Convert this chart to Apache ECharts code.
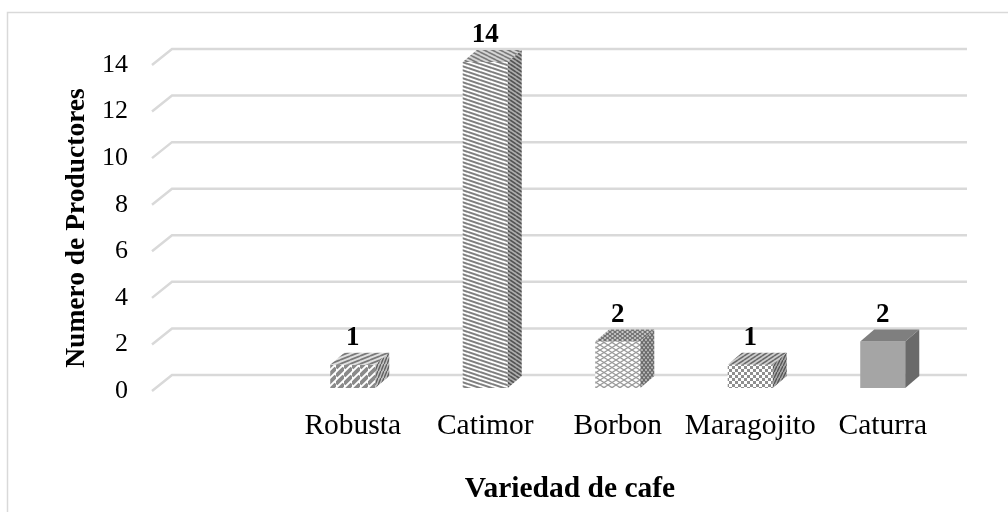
<!DOCTYPE html>
<html>
<head>
<meta charset="utf-8">
<title>Variedad de cafe</title>
<script src="https://cdn.jsdelivr.net/npm/echarts@6.0.0/dist/echarts.min.js"></script>
<style>
  body { margin: 0; background: #fff; }
  #chart { width: 1008px; height: 512px; }
</style>
</head>
<body>
<div id="chart"></div>
<script>
// datos
const categories = ['', 'Robusta', 'Catimor', 'Borbon', 'Maragojito', 'Caturra'];
const productores = [null, 1, 14, 2, 1, 2];
const yTicks = [0, 2, 4, 6, 8, 10, 12, 14];

const FONT = '"Liberation Serif", "Times New Roman", serif';
const DX = 14, DY = 12;          // profundidad de las cajas 3D
const WALL_DX = 20, WALL_DY = 16; // profundidad de la pared del fondo

// tramas de relleno
function tile(w, h, draw) {
    const c = document.createElement('canvas');
    c.width = w; c.height = h;
    draw(c.getContext('2d'));
    return { image: c, repeat: 'repeat' };
}
function stripes(w, h, bg, fg, lw, up) {
    return tile(w, h, ctx => {
        ctx.fillStyle = bg; ctx.fillRect(0, 0, w, h);
        ctx.strokeStyle = fg; ctx.lineWidth = lw;
        for (let k = -1; k <= 1; k++) {
            ctx.beginPath();
            if (up) { ctx.moveTo(0, h + k * h); ctx.lineTo(w, k * h); }
            else { ctx.moveTo(0, k * h); ctx.lineTo(w, h + k * h); }
            ctx.stroke();
        }
    });
}
function lattice(w, h, bg, fg, lw) {
    return tile(w, h, ctx => {
        ctx.fillStyle = bg; ctx.fillRect(0, 0, w, h);
        ctx.strokeStyle = fg; ctx.lineWidth = lw;
        for (let k = -1; k <= 1; k++) {
            ctx.beginPath(); ctx.moveTo(0, k * h); ctx.lineTo(w, h + k * h); ctx.stroke();
            ctx.beginPath(); ctx.moveTo(0, h + k * h); ctx.lineTo(w, k * h); ctx.stroke();
        }
    });
}
function checker(s, bg, fg) {
    return tile(2 * s, 2 * s, ctx => {
        ctx.fillStyle = bg; ctx.fillRect(0, 0, 2 * s, 2 * s);
        ctx.fillStyle = fg; ctx.fillRect(0, 0, s, s); ctx.fillRect(s, s, s, s);
    });
}

const faceStyles = {
    1: { front: stripes(8, 8, '#ffffff', '#8a8a8a', 3.8, true),
         top: stripes(10, 4, '#e0e0e0', '#7a7a7a', 1.8, true),
         side: stripes(3, 7, '#c0c0c0', '#5f5f5f', 1.4, true) },
    2: { front: stripes(12, 4, '#ffffff', '#7f7f7f', 2, false),
         top: stripes(8, 4, '#d6d6d6', '#7a7a7a', 1.6, false),
         side: stripes(6, 4, '#b0b0b0', '#555555', 1.8, false) },
    3: { front: lattice(8, 5, '#ffffff', '#9a9a9a', 1.2),
         top: lattice(5, 4, '#cfcfcf', '#6f6f6f', 1.1),
         side: lattice(4, 5, '#bdbdbd', '#666666', 1.1) },
    4: { front: checker(3, '#ffffff', '#8f8f8f'),
         top: stripes(6, 4, '#cfcfcf', '#6a6a6a', 1.6, true),
         side: stripes(3, 6, '#a8a8a8', '#555555', 1.4, true) },
    5: { front: '#a5a5a5', top: '#7f7f7f', side: '#6a6a6a' }
};

function renderBox(params, api) {
    const v = api.value(1);
    if (v == null || isNaN(v)) return;
    const i = api.value(0);
    const base = api.coord([i, 0]);
    const top = api.coord([i, v]);
    const w = api.size([1, 0])[0] * 0.34;
    const x0 = base[0] - w / 2, x1 = base[0] + w / 2;
    const yt = top[1], yb = base[1];
    const f = faceStyles[i];
    return {
        type: 'group',
        children: [
            { type: 'polygon', shape: { points: [[x0, yt], [x1, yt], [x1, yb], [x0, yb]] }, style: { fill: f.front } },
            { type: 'polygon', shape: { points: [[x0, yt], [x0 + DX, yt - DY], [x1 + DX, yt - DY], [x1, yt]] }, style: { fill: f.top } },
            { type: 'polygon', shape: { points: [[x1, yt], [x1 + DX, yt - DY], [x1 + DX, yb - DY], [x1, yb]] }, style: { fill: f.side } },
            { type: 'text', style: {
                text: String(v), x: base[0], y: yt - DY - 1,
                align: 'center', verticalAlign: 'bottom',
                textAlign: 'center', textVerticalAlign: 'bottom',
                font: 'bold 27px ' + FONT, fill: '#000'
            } }
        ]
    };
}

function renderWall(params, api) {
    const p = api.coord([0, api.value(1)]);
    const q = api.coord([1, api.value(1)]);
    return {
        type: 'polyline',
        shape: { points: [[p[0], p[1]], [p[0] + WALL_DX, p[1] - WALL_DY], [q[0] + WALL_DX, q[1] - WALL_DY]] },
        style: { stroke: '#d9d9d9', lineWidth: 2.5, fill: null }
    };
}

const chart = echarts.init(document.getElementById('chart'));
chart.setOption({
    animation: false,
    grid: [
        { left: 152, right: 61, top: 65, bottom: 121 },
        { left: 154, right: 59, top: 62, bottom: 124 }
    ],
    xAxis: [
        { gridIndex: 0, type: 'value', min: 0, max: 1, show: false },
        { gridIndex: 1, type: 'category', data: categories,
          axisLine: { show: false }, axisTick: { show: false },
          axisLabel: { fontSize: 29.5, fontFamily: FONT, color: '#000', margin: 23, interval: 0 } }
    ],
    yAxis: [
        { gridIndex: 0, type: 'value', min: 0, max: 14, interval: 2,
          axisLine: { show: false }, axisTick: { show: false }, splitLine: { show: false },
          axisLabel: { fontSize: 26, fontFamily: FONT, color: '#000', margin: 24 },
          name: 'Numero de Productores', nameLocation: 'middle', nameRotate: 90, nameGap: 60,
          nameTextStyle: { fontSize: 27.5, fontWeight: 'bold', fontFamily: FONT, color: '#000' } },
        { gridIndex: 1, type: 'value', min: 0, max: 14, show: false }
    ],
    graphic: [
        { type: 'rect', shape: { x: 7.5, y: 12.5, width: 1100, height: 600 },
          style: { fill: null, stroke: '#d9d9d9', lineWidth: 1.5 }, silent: true },
        { type: 'text', x: 570, y: 489, style: {
            text: 'Variedad de cafe', font: 'bold 29.5px ' + FONT, fill: '#000',
            align: 'center', verticalAlign: 'middle', textAlign: 'center', textVerticalAlign: 'middle' } }
    ],
    series: [
        { type: 'custom', xAxisIndex: 0, yAxisIndex: 0, z: 1,
          data: yTicks.map(v => [0, v]), renderItem: renderWall },
        { type: 'custom', xAxisIndex: 1, yAxisIndex: 1, z: 2,
          data: productores.map((v, i) => [i, v == null ? '-' : v]), renderItem: renderBox }
    ]
});
</script>
</body>
</html>
